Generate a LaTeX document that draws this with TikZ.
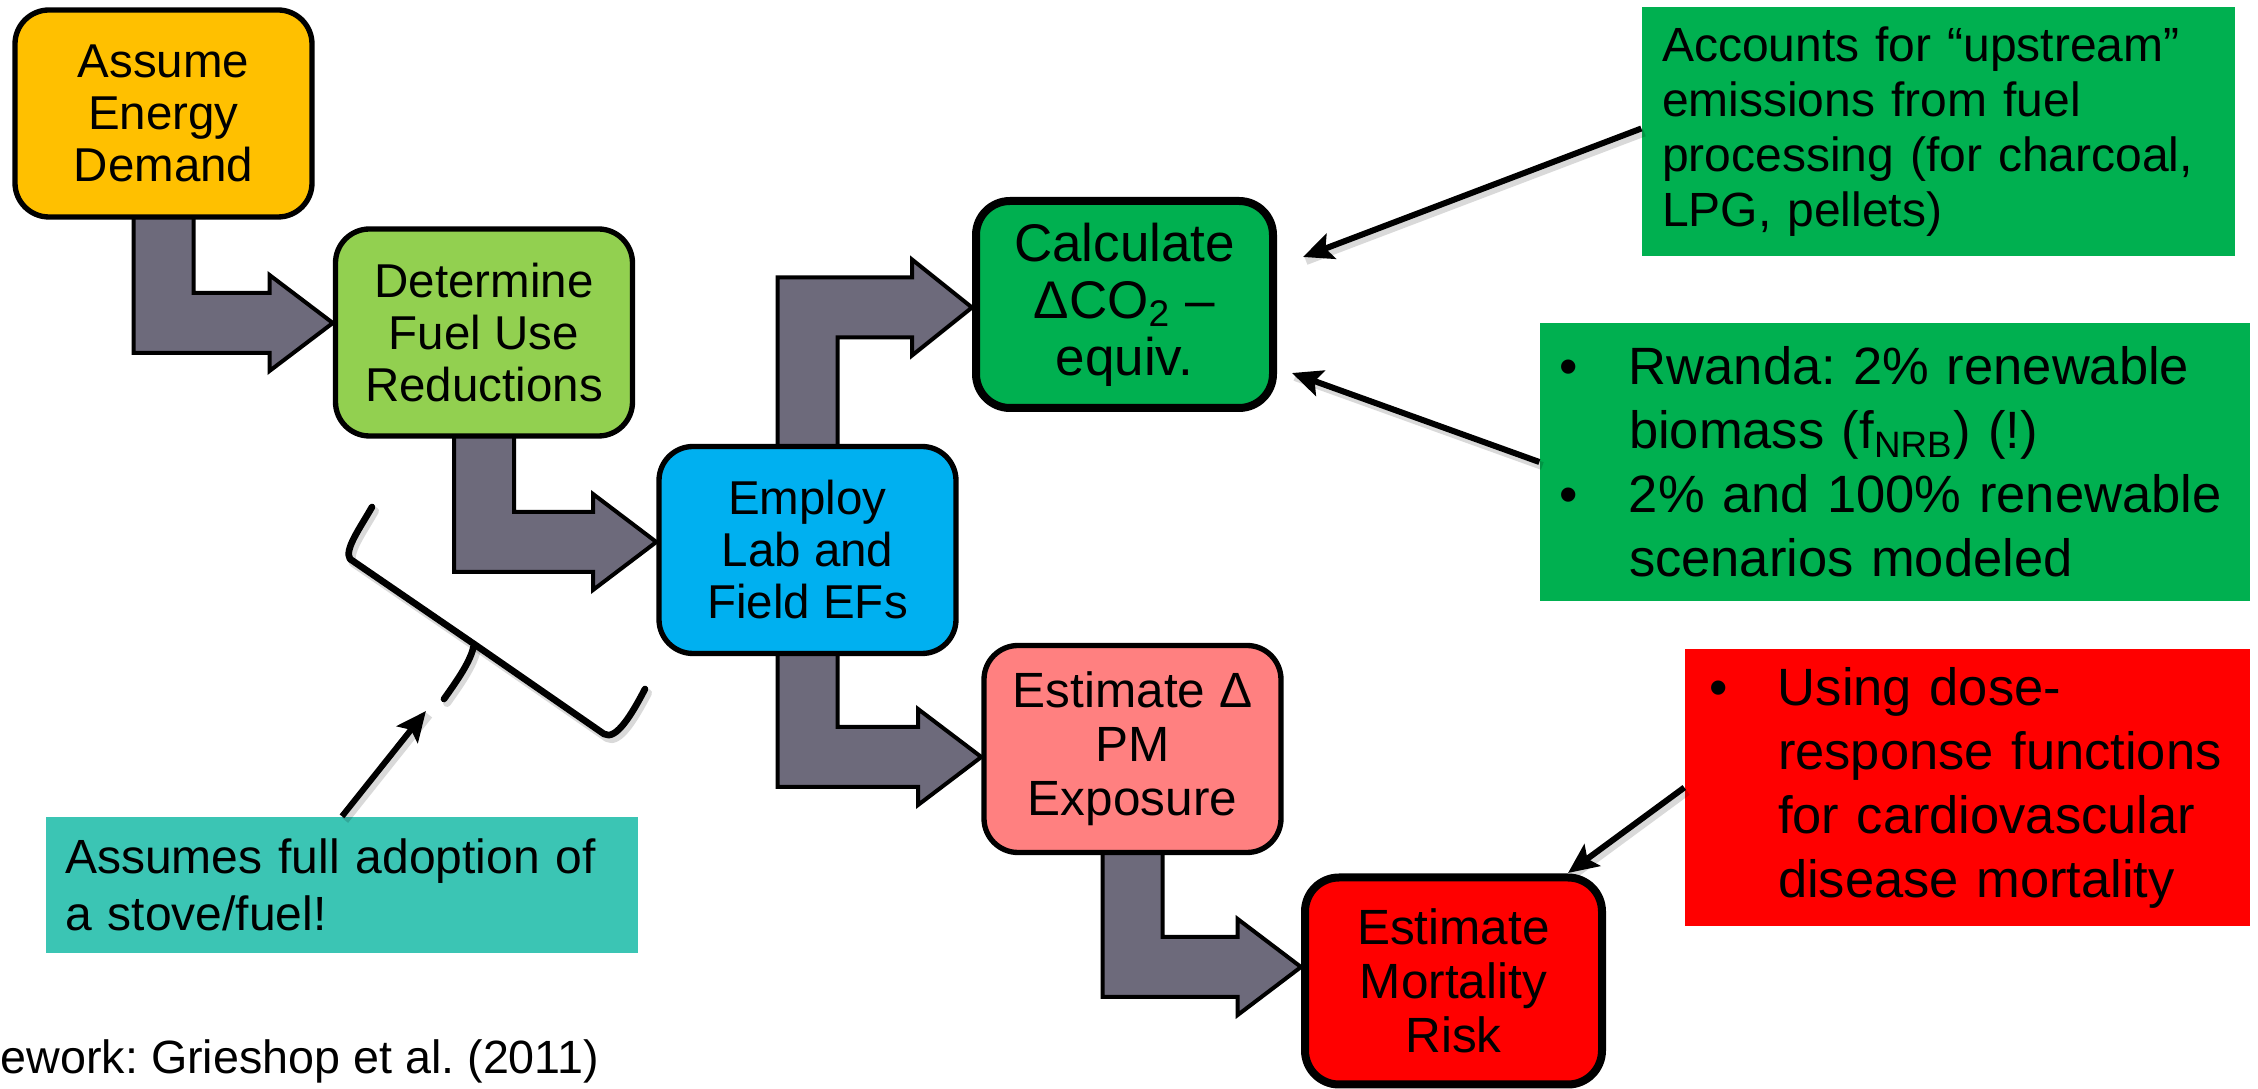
\documentclass[tikz,border=0pt]{standalone}
\usepackage{fontspec}
\setmainfont{Liberation Sans}
\usetikzlibrary{arrows.meta,calc,backgrounds}
\definecolor{cAssume}{RGB}{255,192,0}
\definecolor{cDet}{RGB}{146,208,80}
\definecolor{cEmp}{RGB}{0,176,240}
\definecolor{cCalc}{RGB}{0,176,80}
\definecolor{cPM}{RGB}{255,128,128}
\definecolor{cMort}{RGB}{255,0,0}
\definecolor{cTeal}{RGB}{59,197,180}
\definecolor{cArrow}{RGB}{109,106,123}
\tikzset{
  stepbox/.style={draw=black, line width=1.6pt, rounded corners=10.2pt, align=center,
    inner sep=0pt, minimum width=89.1pt, minimum height=62.1pt,
    font=\fontsize{14.25pt}{15.6pt}\selectfont},
  thickbox/.style={line width=2.4pt},
  notebox/.style={inner ysep=0pt, align=left},
  callout/.style={line width=1.8pt, -{Stealth[length=9pt,width=8pt,inset=1.8pt]}},
  calloutshadow/.style={line width=2.4pt, black, opacity=0.15, transform canvas={shift={(3,4)}}},
  blockarrow/.style={fill=cArrow, draw=black, line width=1.2pt, line join=miter},
  bracestyle/.style={line width=2pt, line cap=round, line join=round}
}
\frenchspacing
\begin{document}
\begin{tikzpicture}[x=0.3pt,y=-0.3pt]
\useasboundingbox (0,0) rectangle (2258,1089);

% process boxes
\node[stepbox, fill=cAssume] (assume) at (163.5,113.5) {Assume\\Energy\\Demand};
\node[stepbox, fill=cDet] (determine) at (484,332.5) {Determine\\Fuel Use\\Reductions};
\node[stepbox, fill=cEmp] (employ) at (807.5,550) {Employ\\Lab and\\Field EFs};
\node[stepbox, thickbox, fill=cCalc, font=\fontsize{15.9pt}{17.1pt}\selectfont] (calc) at (1124.5,304.5) {Calculate\\ΔCO\textsubscript{2} –\\equiv.};
\node[stepbox, fill=cPM, font=\fontsize{14.85pt}{16.2pt}\selectfont] (pm) at (1132.5,749) {Estimate Δ\\PM\\Exposure};
\node[stepbox, thickbox, fill=cMort, font=\fontsize{14.85pt}{16.2pt}\selectfont] (mort) at (1453.5,981) {Estimate\\Mortality\\Risk};

% notes
\node[notebox, fill=cCalc, minimum height=74.7pt, inner xsep=6pt, text width=165.9pt,
  font=\fontsize{14.4pt}{16.5pt}\selectfont] (up) at (1938.5,131.5)
  {Accounts for “upstream”\\emissions from fuel\\processing (for charcoal,\\LPG, pellets)};
\node[notebox, fill=cCalc, minimum height=83.4pt, inner xsep=5.7pt, text width=201.6pt,
  font=\fontsize{15.75pt}{19.2pt}\selectfont] (rw) at (1895,462)
  {\makebox[21pt][l]{\textbullet}Rwanda: 2\% renewable\\
   \hspace*{21pt}biomass (f\textsubscript{NRB}) (!)\\
   \makebox[21pt][l]{\textbullet}2\% and 100\% renewable\\
   \hspace*{21pt}scenarios modeled};
\node[notebox, fill=cMort, minimum height=83.1pt, inner xsep=7.2pt, text width=155.1pt,
  font=\fontsize{15.75pt}{19.2pt}\selectfont] (red) at (1967.5,787.5)
  {\makebox[20.7pt][l]{\textbullet}Using dose-\\
   \hspace*{20.7pt}response functions\\
   \hspace*{20.7pt}for cardiovascular\\
   \hspace*{20.7pt}disease mortality};
\node[notebox, fill=cTeal, minimum height=40.8pt, inner xsep=5.7pt, text width=166.2pt,
  font=\fontsize{14.4pt}{17.1pt}\selectfont] (teal) at (342,885)
  {Assumes full adoption of\\a stove/fuel!};

\node[anchor=base west, inner sep=0pt, font=\fontsize{14pt}{16pt}\selectfont] (cite) at (0,1074)
  {ework: Grieshop et al. (2011)};

% callout arrows
\coordinate (upTip) at (1303,257);
\coordinate (rwTip) at (1292,373);
\coordinate (redTip) at (1568,873);
\coordinate (tealTip) at (426,711);
\draw[calloutshadow] ($(up.west)+(0,-3)$) -- (upTip);
\draw[calloutshadow] (rw.west) -- (rwTip);
\draw[calloutshadow] (red.west) -- (redTip);
\draw[calloutshadow] (teal.north) -- (tealTip);
\draw[callout] ($(up.west)+(0,-3)$) -- (upTip);
\draw[callout] (rw.west) -- (rwTip);
\draw[callout] (red.west) -- (redTip);
\draw[callout] (teal.north) -- (tealTip);

% bracket
\begin{scope}[bracestyle]
\draw[calloutshadow] (372,507) .. controls (360,528) and (344,550) .. (350,559)
  -- (474,644) .. controls (472,660) and (456,682) .. (444,699);
\draw[calloutshadow] (474,644) -- (604,734) .. controls (616,741) and (632,714) .. (645,689);
\draw (372,507) .. controls (360,528) and (344,550) .. (350,559)
  -- (474,644) .. controls (472,660) and (456,682) .. (444,699);
\draw (474,644) -- (604,734) .. controls (616,741) and (632,714) .. (645,689);
\end{scope}

% block arrows behind the boxes
\begin{pgfonlayer}{background}
\fill[white] (0,0) rectangle (2258,1089);
\draw[blockarrow] let \p1=(assume.south), \p2=($(determine.west)+(0,-9.5)$) in
  (\x1-9pt,\y1+6pt) -- (\x1+9pt,\y1+6pt) -- (\x1+9pt,\y2+9pt) -- (\x2-19pt,\y2+9pt)
  -- (\x2-19pt,\y2+14.4pt) -- (\x2,\y2) -- (\x2-19pt,\y2-14.4pt) -- (\x2-19pt,\y2-9pt)
  -- (\x1-9pt,\y2-9pt) -- cycle;
\draw[blockarrow] let \p1=(determine.south), \p2=($(employ.west)+(0,-8)$) in
  (\x1-9pt,\y1+6pt) -- (\x1+9pt,\y1+6pt) -- (\x1+9pt,\y2+9pt) -- (\x2-19pt,\y2+9pt)
  -- (\x2-19pt,\y2+14.4pt) -- (\x2,\y2) -- (\x2-19pt,\y2-14.4pt) -- (\x2-19pt,\y2-9pt)
  -- (\x1-9pt,\y2-9pt) -- cycle;
\draw[blockarrow] let \p1=(employ.north), \p2=($(calc.west)+(0,3)$) in
  (\x1-9pt,\y1-6pt) -- (\x1-9pt,\y2+9pt) -- (\x2-18pt,\y2+9pt)
  -- (\x2-18pt,\y2+14.4pt) -- (\x2,\y2) -- (\x2-18pt,\y2-14.4pt) -- (\x2-18pt,\y2-9pt)
  -- (\x1+9pt,\y2-9pt) -- (\x1+9pt,\y1-6pt) -- cycle;
\draw[blockarrow] let \p1=(employ.south), \p2=($(pm.west)+(0,8)$) in
  (\x1-9pt,\y1+6pt) -- (\x1+9pt,\y1+6pt) -- (\x1+9pt,\y2+9pt) -- (\x2-19pt,\y2+9pt)
  -- (\x2-19pt,\y2+14.4pt) -- (\x2,\y2) -- (\x2-19pt,\y2-14.4pt) -- (\x2-19pt,\y2-9pt)
  -- (\x1-9pt,\y2-9pt) -- cycle;
\draw[blockarrow] let \p1=(pm.south), \p2=($(mort.west)+(0,-14)$) in
  (\x1-9pt,\y1+6pt) -- (\x1+9pt,\y1+6pt) -- (\x1+9pt,\y2+9pt) -- (\x2-19pt,\y2+9pt)
  -- (\x2-19pt,\y2+14.4pt) -- (\x2,\y2) -- (\x2-19pt,\y2-14.4pt) -- (\x2-19pt,\y2-9pt)
  -- (\x1-9pt,\y2-9pt) -- cycle;
\end{pgfonlayer}
\end{tikzpicture}
\end{document}
